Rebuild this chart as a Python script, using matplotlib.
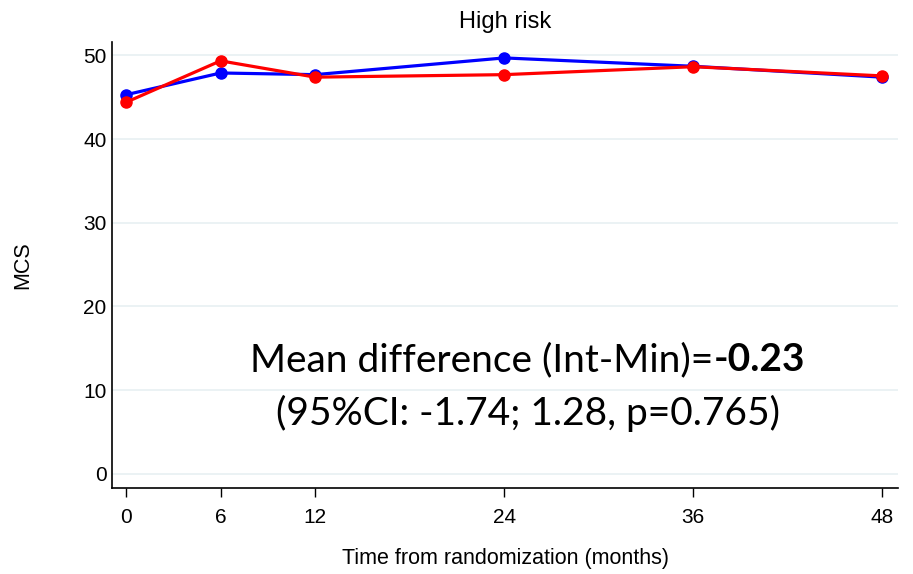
import matplotlib
matplotlib.use("Agg")
import matplotlib.pyplot as plt

months = [0, 6, 12, 24, 36, 48]
mcs_blue = [45.3, 47.9, 47.7, 49.7, 48.7, 47.4]
mcs_red = [44.4, 49.35, 47.4, 47.7, 48.65, 47.55]
yticks = [0, 10, 20, 30, 40, 50]

plt.rcParams['font.family'] = ['Liberation Sans', 'DejaVu Sans']

fig = plt.figure(figsize=(9.13, 5.74), dpi=100)
ax = fig.add_axes([0.1227, 0.1498, 0.8609, 0.777])

for v in yticks:
    ax.axhline(v, color='#e8f0f2', lw=1.2, zorder=0)

ax.plot(months, mcs_blue, color='#0000ff', lw=2.3, marker='o', ms=8, zorder=3)
ax.plot(months, mcs_red, color='#ff0000', lw=2.3, marker='o', ms=8, zorder=4)

ax.set_xlim(-0.89, 49)
ax.set_ylim(-1.7, 51.6)
ax.set_xticks(months)
ax.set_yticks(yticks)
ax.tick_params(axis='y', length=0, pad=4, labelsize=15)
ax.tick_params(axis='x', length=6.5, width=1, pad=8, labelsize=15)
for s in ['top', 'right']:
    ax.spines[s].set_visible(False)
ax.spines['left'].set_linewidth(1.2)
ax.spines['bottom'].set_linewidth(1.2)

ax.set_title('High risk', fontsize=17, pad=10)
ax.set_ylabel('MCS', fontsize=15.5)
ax.yaxis.set_label_coords(-0.1, 0.5)
ax.set_xlabel('Time from randomization (months)', fontsize=15.5)
ax.xaxis.set_label_coords(0.5, -0.135)

fs = 28
cx = 0.578
t1 = fig.text(0, 0.373, 'Mean difference (Int-Min)=', fontsize=fs,
              family='Lato', ha='left', va='center')
t2 = fig.text(0, 0.373, '-0.23', fontsize=fs, family='Lato', weight='bold',
              ha='left', va='center')
fig.canvas.draw()
r = fig.canvas.get_renderer()
w1 = t1.get_window_extent(r).width / fig.bbox.width
w2 = t2.get_window_extent(r).width / fig.bbox.width
x0 = cx - (w1 + w2) / 2
t1.set_x(x0)
t2.set_x(x0 + w1)
fig.text(cx, 0.2805, '(95%CI: -1.74; 1.28, p=0.765)', fontsize=fs,
         family='Lato', ha='center', va='center')

fig.savefig('out.png', dpi=100)
